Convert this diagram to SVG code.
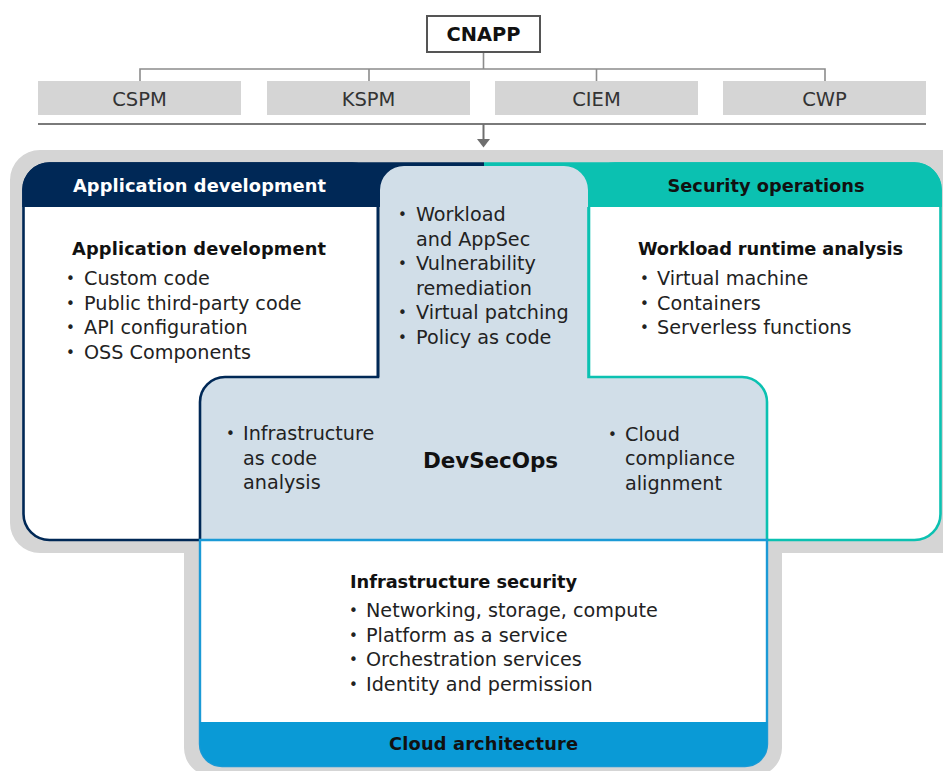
<svg xmlns="http://www.w3.org/2000/svg" width="943" height="771" viewBox="0 0 943 771">
<defs>
<style>
.reg{font-family:"DejaVu Sans","Liberation Sans",sans-serif;font-size:19.2px;fill:#222}
.bu{font-size:15px}
.bold{font-family:"DejaVu Sans","Liberation Sans",sans-serif;font-weight:bold;font-size:17.8px;fill:#111}
.top{font-family:"DejaVu Sans","Liberation Sans",sans-serif;font-size:19.5px;fill:#333;text-anchor:middle}
.conn{stroke:#8c8c8c;stroke-width:1.6;fill:none}
.cat{fill:#d5d5d5}
</style>
<marker id="arr" markerWidth="9" markerHeight="13" refX="0" refY="0" orient="auto" markerUnits="userSpaceOnUse" viewBox="0 -6.5 9 13">
<path d="M0,-6.5 L0,6.5 L8.5,0 Z" fill="#6e6e6e"/>
</marker>
</defs>
<rect width="943" height="771" fill="#ffffff"/>

<g id="cnapp">
<rect x="427" y="16" width="113" height="36" fill="#fff" stroke="#555" stroke-width="2"/>
<text x="483.5" y="41" class="bold" style="font-size:19.4px;text-anchor:middle" textLength="74">CNAPP</text>
</g>

<g id="connectors">
<path class="conn" d="M483.5,53 V69 M140,69 H825 M140,68.2 V81 M369,68.2 V81 M596.5,68.2 V81 M825,68.2 V81"/>
<line x1="38" y1="124" x2="926" y2="124" stroke="#7a7a7a" stroke-width="2"/>
<line x1="483.5" y1="124" x2="483.5" y2="139" stroke="#6e6e6e" stroke-width="2" marker-end="url(#arr)"/>
</g>

<g id="cspm"><rect class="cat" x="38" y="81" width="203" height="34"/><text class="top" x="139.5" y="106">CSPM</text></g>
<g id="kspm"><rect class="cat" x="267" y="81" width="203" height="34"/><text class="top" x="368.5" y="106">KSPM</text></g>
<g id="ciem"><rect class="cat" x="495" y="81" width="203" height="34"/><text class="top" x="596.5" y="106">CIEM</text></g>
<g id="cwp"><rect class="cat" x="723" y="81" width="203" height="34"/><text class="top" x="824.5" y="106">CWP</text></g>

<g id="background">
<path d="M10,180 A30,30 0 0 1 40,150 H960 V553 H782 V748 A28,28 0 0 1 754,776 H212 A28,28 0 0 1 184,748 V553 H40 A30,30 0 0 1 10,523 Z" fill="#d5d5d5"/>
</g>

<g id="app-dev">
<rect x="23.5" y="163.5" width="354.5" height="376.5" rx="26" ry="26" fill="#fff" stroke="#002856" stroke-width="2.6"/>
<path d="M22.2,190 A27.8,27.8 0 0 1 50,162.2 H484 V207 H22.2 Z" fill="#002856"/>
<text x="199.5" y="192" class="bold" style="fill:#fff;text-anchor:middle" textLength="253">Application development</text>
<text x="72" y="255" class="bold" textLength="254">Application development</text>
<text class="reg"><tspan class="bu" x="66" y="284">•</tspan><tspan x="84" y="285">Custom code</tspan></text>
<text class="reg"><tspan class="bu" x="66" y="308.5">•</tspan><tspan x="84" y="309.5">Public third-party code</tspan></text>
<text class="reg"><tspan class="bu" x="66" y="333">•</tspan><tspan x="84" y="334">API configuration</tspan></text>
<text class="reg"><tspan class="bu" x="66" y="357.5">•</tspan><tspan x="84" y="358.5">OSS Components</tspan></text>
</g>

<g id="sec-ops">
<rect x="589" y="163.5" width="351.5" height="376.5" rx="26" ry="26" fill="#fff" stroke="#0bc1b1" stroke-width="2.6"/>
<path d="M484,162.2 H914 A27.8,27.8 0 0 1 941.8,190 V207 H484 Z" fill="#0bc1b1"/>
<text x="766" y="192" class="bold" style="text-anchor:middle" textLength="197">Security operations</text>
<text x="638" y="255" class="bold" textLength="265">Workload runtime analysis</text>
<text class="reg"><tspan class="bu" x="640" y="284">•</tspan><tspan x="657" y="285">Virtual machine</tspan></text>
<text class="reg"><tspan class="bu" x="640" y="308.5">•</tspan><tspan x="657" y="309.5">Containers</tspan></text>
<text class="reg"><tspan class="bu" x="640" y="333">•</tspan><tspan x="657" y="334">Serverless functions</tspan></text>
</g>

<g id="devsecops">
<path d="M380,190 A24,24 0 0 1 404,166 H564 A24,24 0 0 1 588,190 V377 H742 A25,25 0 0 1 767,402 V540 H200 V402 A25,25 0 0 1 225,377 H380 Z" fill="#d1dee8"/>
<path d="M378,207 V377 H225 A25,25 0 0 0 200,402 V540" fill="none" stroke="#002856" stroke-width="2.6"/>
<path d="M588.5,207 V377 H742 A25,25 0 0 1 767,402 V540" fill="none" stroke="#0bc1b1" stroke-width="2.6"/>
<text class="reg"><tspan class="bu" x="398" y="220">•</tspan><tspan x="416" y="221">Workload</tspan><tspan x="416" y="245.5">and AppSec</tspan></text>
<text class="reg"><tspan class="bu" x="398" y="269">•</tspan><tspan x="416" y="270">Vulnerability</tspan><tspan x="416" y="294.5">remediation</tspan></text>
<text class="reg"><tspan class="bu" x="398" y="318">•</tspan><tspan x="416" y="319">Virtual patching</tspan></text>
<text class="reg"><tspan class="bu" x="398" y="342.5">•</tspan><tspan x="416" y="343.5">Policy as code</tspan></text>
<text class="reg"><tspan class="bu" x="226" y="439">•</tspan><tspan x="243" y="440">Infrastructure</tspan><tspan x="243" y="464.5">as code</tspan><tspan x="243" y="489">analysis</tspan></text>
<text x="490.5" y="468" class="bold" style="font-size:21.5px;text-anchor:middle" textLength="135">DevSecOps</text>
<text class="reg"><tspan class="bu" x="608" y="439.5">•</tspan><tspan x="625" y="440.5">Cloud</tspan><tspan x="625" y="465">compliance</tspan><tspan x="625" y="489.5">alignment</tspan></text>
</g>

<g id="cloud-arch">
<path d="M200,540 H767 V744 A22,22 0 0 1 745,766 H222 A22,22 0 0 1 200,744 Z" fill="#fff" stroke="#1b9ad6" stroke-width="2.4"/>
<path d="M200,722 H767 V744 A22,22 0 0 1 745,766 H222 A22,22 0 0 1 200,744 Z" fill="#0a9ad6"/>
<text x="350" y="588" class="bold" textLength="227">Infrastructure security</text>
<text class="reg"><tspan class="bu" x="349" y="616">•</tspan><tspan x="366" y="617">Networking, storage, compute</tspan></text>
<text class="reg"><tspan class="bu" x="349" y="640.5">•</tspan><tspan x="366" y="641.5">Platform as a service</tspan></text>
<text class="reg"><tspan class="bu" x="349" y="665">•</tspan><tspan x="366" y="666">Orchestration services</tspan></text>
<text class="reg"><tspan class="bu" x="349" y="689.5">•</tspan><tspan x="366" y="690.5">Identity and permission</tspan></text>
<text x="483.5" y="749.5" class="bold" style="text-anchor:middle" textLength="189">Cloud architecture</text>
</g>
</svg>
